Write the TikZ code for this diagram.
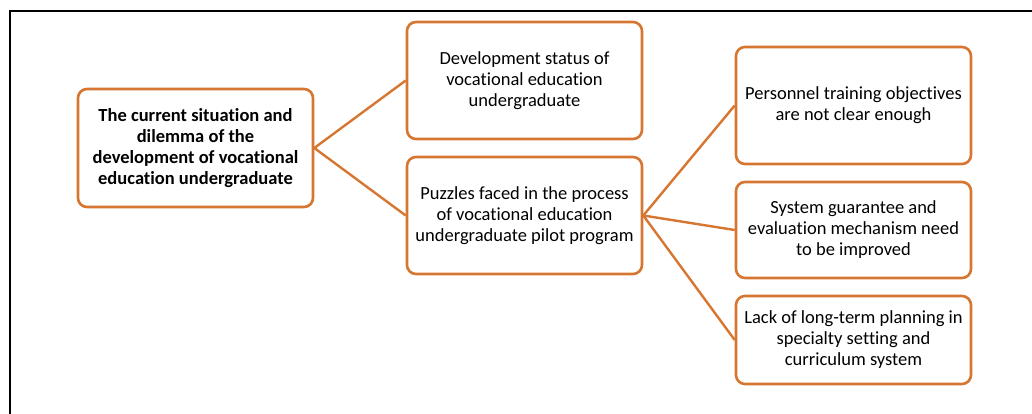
\documentclass[tikz,border=0pt]{standalone}
\usepackage{fontspec}
\setmainfont{Carlito}[RawFeature=-liga]
\usetikzlibrary{positioning}
\definecolor{boxorange}{RGB}{214,118,48}
\tikzset{mbox/.style = {rectangle, rounded corners=9pt, draw=boxorange, line width=2.6pt,
                        text=black, minimum width=235pt, align=center,
                        font=\fontsize{18.5}{21}\selectfont}}
\tikzset{link/.style = {draw=boxorange, line width=2.4pt}}

\begin{document}
\begin{tikzpicture}[x=1pt, y=-1pt]
      \useasboundingbox (0, 0) rectangle (1032, 414);
      \draw [line width=2.6pt] (10, 414) -- (10, 11) -- (1032, 11);
      \node [mbox, minimum height=118pt, font=\fontsize{18.5}{21}\selectfont\bfseries] (root) at (195.5, 148)
            {The current situation and\\dilemma of the\\development of vocational\\education undergraduate};
      \node [mbox, minimum height=117pt] (status) at (524.5, 80.5)
            {Development status of\\vocational education\\undergraduate};
      \node [mbox, minimum height=117pt] (puzzle) at (524.5, 215.5)
            {Puzzles faced in the process\\of vocational education\\undergraduate pilot program};
      \node [mbox, minimum height=117pt] (goal) at (853.5, 105.5)
            {Personnel training objectives\\are not clear enough};
      \node [mbox, minimum height=96pt] (system) at (853.5, 230)
            {System guarantee and\\evaluation mechanism need\\to be improved};
      \node [mbox, minimum height=88pt] (plan) at (853.5, 340)
            {Lack of long-term planning in\\specialty setting and\\curriculum system};
      \draw (root.east) edge [link] (status.west);
      \draw (root.east) edge [link] (puzzle.west);
      \draw (puzzle.east) edge [link] (goal.west);
      \draw (puzzle.east) edge [link] (system.west);
      \draw (puzzle.east) edge [link] (plan.west);
    \end{tikzpicture}
\end{document}
